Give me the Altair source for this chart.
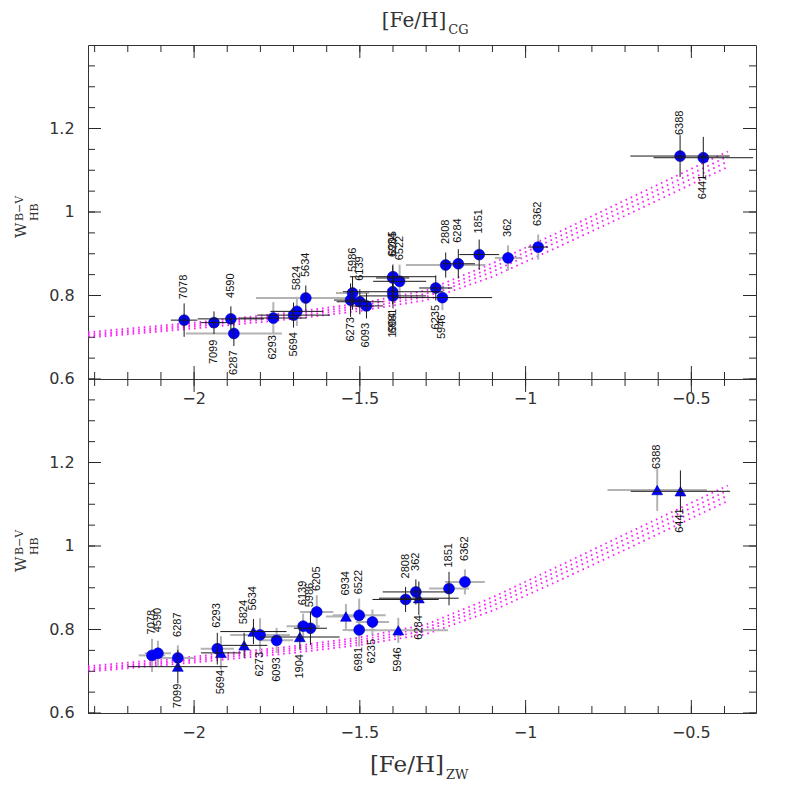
import altair as alt
import pandas as pd

# ---------------- data ----------------
cluster = ["7078", "7099", "4590", "6287", "6293", "5694", "5824", "5634", "6273",
           "5986", "6139", "6093", "6934", "6205", "6522", "6981", "1904", "6235",
           "5946", "2808", "6284", "1851", "362", "6362", "6388", "6441"]

# upper panel: [Fe/H] on the CG scale
feh_cg = [-2.03, -1.94, -1.889, -1.88, -1.761, -1.70, -1.69, -1.663, -1.528,
          -1.522, -1.50, -1.48, -1.401, -1.40, -1.38, -1.401, -1.40, -1.271,
          -1.251, -1.241, -1.203, -1.14, -1.053, -0.962, -0.534, -0.464]
w_cg = [0.741, 0.735, 0.744, 0.709, 0.746, 0.753, 0.762, 0.794, 0.789,
        0.806, 0.785, 0.775, 0.842, 0.845, 0.834, 0.809, 0.799, 0.818,
        0.795, 0.873, 0.876, 0.898, 0.890, 0.916, 1.134, 1.130]
xerr_cg = [0.04, 0.04, 0.10, 0.145, 0.10, 0.11, 0.08, 0.15, 0.05,
           0.05, 0.07, 0.05, 0.05, 0.13, 0.08, 0.15, 0.10, 0.05,
           0.15, 0.12, 0.05, 0.06, 0.04, 0.03, 0.15, 0.15]
yerr_cg = [0.04, 0.027, 0.03, 0.03, 0.038, 0.03, 0.035, 0.03, 0.04,
           0.04, 0.03, 0.03, 0.03, 0.03, 0.04, 0.03, 0.03, 0.03,
           0.03, 0.03, 0.035, 0.036, 0.03, 0.03, 0.05, 0.05]
xsrc_cg = ["k", "k", "k", "g", "k", "k", "k", "g", "k", "g", "k", "k", "k",
           "k", "k", "k", "k", "k", "k", "g", "k", "k", "g", "k", "k", "k"]
ysrc_cg = ["k", "k", "k", "k", "g", "k", "g", "k", "k", "k", "k", "k", "k",
           "g", "g", "k", "k", "k", "g", "k", "k", "k", "g", "g", "k", "k"]
side_cg = ["a", "b", "a", "b", "b", "b", "a", "a", "b", "a", "a", "b", "a",
           "a", "a", "b", "b", "b", "b", "a", "a", "a", "a", "a", "a", "b"]
sym_cg = ["c", "c", "c", "c", "c", "c", "c", "c", "c", "c", "c", "c", "c",
          "c", "c", "c", "c", "c", "c", "c", "c", "c", "c", "c", "c", "c"]

# lower panel: [Fe/H] on the ZW scale
feh_zw = [-2.127, -2.049, -2.109, -2.049, -1.93, -1.919, -1.849, -1.821, -1.801,
          -1.649, -1.671, -1.751, -1.542, -1.630, -1.502, -1.502, -1.681, -1.462,
          -1.384, -1.362, -1.322, -1.231, -1.331, -1.183, -0.603, -0.533]
w_zw = [0.738, 0.711, 0.743, 0.732, 0.754, 0.744, 0.762, 0.795, 0.787,
        0.803, 0.808, 0.774, 0.831, 0.842, 0.834, 0.799, 0.782, 0.818,
        0.798, 0.872, 0.875, 0.898, 0.890, 0.914, 1.134, 1.131]
xerr_zw = [0.04, 0.15, 0.04, 0.05, 0.05, 0.06, 0.07, 0.10, 0.09,
           0.05, 0.05, 0.05, 0.06, 0.05, 0.08, 0.05, 0.12, 0.05,
           0.15, 0.10, 0.12, 0.06, 0.10, 0.06, 0.15, 0.15]
yerr_zw = [0.04, 0.04, 0.03, 0.03, 0.038, 0.04, 0.03, 0.03, 0.04,
           0.04, 0.03, 0.03, 0.03, 0.04, 0.04, 0.04, 0.03, 0.03,
           0.03, 0.03, 0.04, 0.04, 0.03, 0.03, 0.05, 0.05]
xsrc_zw = ["g", "k", "g", "g", "g", "k", "k", "k", "g", "k", "g", "g", "g",
           "g", "g", "g", "k", "g", "g", "k", "k", "g", "k", "g", "g", "k"]
ysrc_zw = ["g", "k", "g", "g", "k", "g", "k", "k", "g", "k", "g", "g", "g",
           "g", "g", "g", "k", "g", "g", "k", "k", "k", "k", "g", "g", "k"]
side_zw = ["a", "b", "a", "a", "a", "b", "a", "a", "b", "a", "a", "b", "a",
           "a", "a", "b", "b", "b", "b", "a", "b", "a", "a", "a", "a", "b"]
sym_zw = ["c", "t", "c", "c", "c", "t", "t", "t", "c", "c", "c", "c", "t",
          "c", "c", "c", "t", "c", "t", "c", "t", "c", "c", "c", "t", "t"]

# model curves (dotted magenta)
line_x = [-2.32, -2.0, -1.7, -1.5, -1.3, -1.1, -0.9, -0.7, -0.39]
line_1 = [0.712, 0.735, 0.760, 0.781, 0.812, 0.877, 0.952, 1.028, 1.145]
line_2 = [0.707, 0.730, 0.755, 0.775, 0.804, 0.867, 0.941, 1.016, 1.133]
line_3 = [0.703, 0.726, 0.750, 0.769, 0.797, 0.857, 0.930, 1.004, 1.121]
line_4 = [0.699, 0.721, 0.744, 0.763, 0.789, 0.845, 0.917, 0.991, 1.108]

# axis ticks / tick labels
x_major = [-2.0, -1.5, -1.0, -0.5]
x_minor = [-2.3, -2.2, -2.1, -2.0, -1.9, -1.8, -1.7, -1.6, -1.5, -1.4, -1.3,
           -1.2, -1.1, -1.0, -0.9, -0.8, -0.7, -0.6, -0.5, -0.4]
y_major = [0.6, 0.8, 1.0, 1.2]
y_minor = [0.6, 0.65, 0.7, 0.75, 0.8, 0.85, 0.9, 0.95, 1.0, 1.05, 1.1, 1.15,
           1.2, 1.25, 1.3, 1.35]

# ---------------- chart ----------------
W, H = 668, 334
XS = alt.Scale(domain=[-2.32, -0.305], nice=False, zero=False)
YS = alt.Scale(domain=[0.6, 1.4], nice=False, zero=False)
INK = "#333333"
TICK = "#2a2a2a"
GRAY = "#b3b3b3"
DARK = "#1a1a1a"

lines_df = pd.DataFrame({
    "lx": line_x * 4,
    "ly": line_1 + line_2 + line_3 + line_4,
    "lid": ["1"] * len(line_x) + ["2"] * len(line_x) + ["3"] * len(line_x) + ["4"] * len(line_x),
})


def label_layers():
    lab = dict(font="DejaVu Sans", fontSize=16, color=INK)
    xl = alt.Chart(pd.DataFrame({"lv": x_major})).mark_text(
        align="center", baseline="alphabetic", **lab).encode(
        x=alt.X("lv:Q", scale=XS, axis=None), y=alt.value(H + 25),
        text=alt.Text("lv:Q", format="~g"))
    yl = alt.Chart(pd.DataFrame({"lv": y_major})).mark_text(
        align="right", baseline="middle", **lab).encode(
        y=alt.Y("lv:Q", scale=YS, axis=None), x=alt.value(-13.4),
        text=alt.Text("lv:Q", format="~g"))
    return [xl, yl]


def tick_layers():
    # inward ticks on all four sides of the frame
    out = []
    for vals, ln in ((x_major, 13), (x_minor, 7)):
        base = alt.Chart(pd.DataFrame({"tx": vals})).mark_rule(color=TICK, strokeWidth=1)
        xenc = alt.X("tx:Q", scale=XS, axis=None)
        out.append(base.encode(x=xenc, y=alt.value(H), y2=alt.value(H - ln)))
        out.append(base.encode(x=xenc, y=alt.value(0), y2=alt.value(ln)))
    for vals, ln in ((y_major, 13), (y_minor, 7)):
        base = alt.Chart(pd.DataFrame({"ty": vals})).mark_rule(color=TICK, strokeWidth=1)
        yenc = alt.Y("ty:Q", scale=YS, axis=None)
        out.append(base.encode(y=yenc, x=alt.value(0), x2=alt.value(ln)))
        out.append(base.encode(y=yenc, x=alt.value(W), x2=alt.value(W - ln)))
    return out


def one_text(t):
    return alt.Chart(pd.DataFrame({"t": [t]}))


def panel(fe, w, xerr, yerr, xsrc, ysrc, side, sym, sub, xt, xt_size, sub_x, title_y):
    df = pd.DataFrame({"name": cluster, "fe": fe, "w": w, "xsrc": xsrc,
                       "ysrc": ysrc, "side": side, "sym": sym})
    df["xlo"] = df["fe"] - pd.Series(xerr)
    df["xhi"] = df["fe"] + pd.Series(xerr)
    df["ylo"] = df["w"] - pd.Series(yerr)
    df["yhi"] = df["w"] + pd.Series(yerr)

    lines = alt.Chart(lines_df).mark_line(
        color="#ff1aff", strokeWidth=1.8, strokeDash=[1.6, 4]
    ).encode(
        x=alt.X("lx:Q", scale=XS, axis=None),
        y=alt.Y("ly:Q", scale=YS, axis=None),
        detail="lid:N",
    )
    gx = alt.Chart(df[df.xsrc == "g"]).mark_rule(color=GRAY, strokeWidth=2).encode(
        x=alt.X("xlo:Q", scale=XS, axis=None), x2="xhi:Q",
        y=alt.Y("w:Q", scale=YS, axis=None),
    )
    gy = alt.Chart(df[df.ysrc == "g"]).mark_rule(color=GRAY, strokeWidth=2).encode(
        x=alt.X("fe:Q", scale=XS, axis=None),
        y=alt.Y("ylo:Q", scale=YS, axis=None), y2="yhi:Q",
    )
    pts = alt.Chart(df).mark_point(
        filled=True, size=118, fill="#0000ff", stroke="#0000b0", strokeWidth=0.6, opacity=1
    ).encode(
        x=alt.X("fe:Q", scale=XS, axis=None),
        y=alt.Y("w:Q", scale=YS, axis=None),
        shape=alt.Shape("sym:N", scale=alt.Scale(domain=["c", "t"], range=["circle", "triangle-up"]), legend=None),
    )
    kx = alt.Chart(df[df.xsrc == "k"]).mark_rule(color=DARK, strokeWidth=1).encode(
        x=alt.X("xlo:Q", scale=XS, axis=None), x2="xhi:Q",
        y=alt.Y("w:Q", scale=YS, axis=None),
    )
    ky = alt.Chart(df[df.ysrc == "k"]).mark_rule(color=DARK, strokeWidth=1).encode(
        x=alt.X("fe:Q", scale=XS, axis=None),
        y=alt.Y("ylo:Q", scale=YS, axis=None), y2="yhi:Q",
    )
    lab_kw = dict(angle=270, baseline="middle", font="Liberation Sans", fontSize=11, color="#111111")
    above = alt.Chart(df[df.side == "a"]).mark_text(align="left", dx=21, **lab_kw).encode(
        x=alt.X("fe:Q", scale=XS, axis=None), y=alt.Y("w:Q", scale=YS, axis=None), text="name:N")
    below = alt.Chart(df[df.side == "b"]).mark_text(align="right", dx=-17, **lab_kw).encode(
        x=alt.X("fe:Q", scale=XS, axis=None), y=alt.Y("w:Q", scale=YS, axis=None), text="name:N")

    # axis titles (with sub/superscripts)
    ser = dict(font="DejaVu Serif", color=INK, align="left", baseline="alphabetic")
    t_main = one_text("[Fe/H]").mark_text(fontSize=xt_size, **ser).encode(
        text="t:N", x=alt.value(xt), y=alt.value(title_y))
    t_sub = one_text(sub).mark_text(fontSize=13, **ser).encode(
        text="t:N", x=alt.value(sub_x), y=alt.value(title_y + 7))
    rot = dict(ser, angle=270)
    y_w = one_text("W").mark_text(fontSize=15, **rot).encode(
        text="t:N", x=alt.value(-61.7), y=alt.value(193))
    y_sup = one_text("B\u2212V").mark_text(fontSize=11, **rot).encode(
        text="t:N", x=alt.value(-64.7), y=alt.value(176))
    y_sub = one_text("HB").mark_text(fontSize=11, **rot).encode(
        text="t:N", x=alt.value(-49.7), y=alt.value(176))

    layers = ([lines, gx, gy, pts, kx, ky, above, below]
              + label_layers()
              + [t_main, t_sub, y_w, y_sup, y_sub]
              + tick_layers())
    return alt.layer(*layers).properties(width=W, height=H)


top = panel(feh_cg, w_cg, xerr_cg, yerr_cg, xsrc_cg, ysrc_cg, side_cg, sym_cg,
            "CG", 293.8, 20, 360.3, -17.8)
bottom = panel(feh_zw, w_zw, xerr_zw, yerr_zw, xsrc_zw, ysrc_zw, side_zw, sym_zw,
               "ZW", 281.9, 23, 358.0, 393)

chart = alt.vconcat(top, bottom, spacing=0, bounds="flush").properties(
    padding={"left": 5, "top": 2, "right": 5, "bottom": 5},
    background="white",
).configure_view(stroke=INK, strokeWidth=1)

chart.save("out.html", embed_options={"renderer": "svg", "actions": False})
